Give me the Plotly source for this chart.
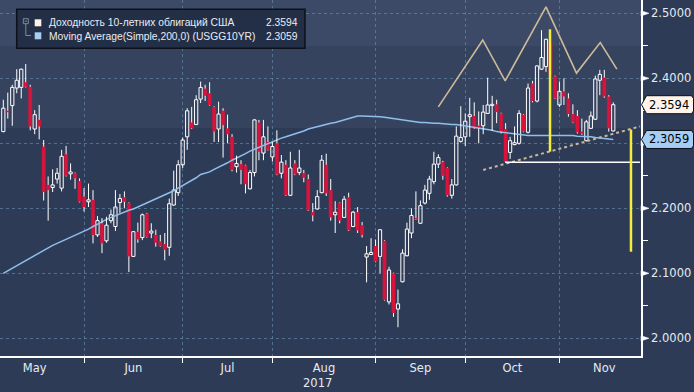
import plotly.graph_objects as go

# ---------------- data ----------------
series_name = "Доходность 10-летних облигаций США"
ma_name = "Moving Average(Simple,200,0) (USGG10YR)"
last_close_label = "2.3594"
last_ma_label = "2.3059"

months = ["May", "Jun", "Jul", "Aug", "Sep", "Oct", "Nov"]
month_label_pos = [7, 29, 50, 71.5, 93, 113.5, 134]   # trading-day index of month centres
month_end_idx = [18, 40, 60, 83, 103, 124]           # last trading day of each month
year_label = "2017"
year_label_pos = 70

opens = [2.318, 2.350, 2.358, 2.385, 2.386, 2.394, 2.387, 2.322, 2.336, 2.295,
         2.236, 2.232, 2.245, 2.231, 2.283, 2.253, 2.254, 2.242, 2.218, 2.210,
         2.213, 2.159, 2.177, 2.150, 2.181, 2.172, 2.209, 2.217, 2.208, 2.126,
         2.164, 2.155, 2.192, 2.162, 2.159, 2.149, 2.145, 2.140, 2.205, 2.224,
         2.267, 2.310, 2.332, 2.329, 2.368, 2.384, 2.377, 2.356, 2.322, 2.350,
         2.323, 2.310, 2.264, 2.268, 2.266, 2.230, 2.255, 2.332, 2.285, 2.302,
         2.279, 2.300, 2.254, 2.267, 2.220, 2.269, 2.255, 2.254, 2.245, 2.194,
         2.199, 2.224, 2.267, 2.228, 2.190, 2.208, 2.186, 2.217, 2.172, 2.194,
         2.174, 2.125, 2.129, 2.142, 2.126, 2.150, 2.056, 2.100, 2.045, 2.087,
         2.127, 2.162, 2.185, 2.177, 2.208, 2.223, 2.241, 2.268, 2.271, 2.262,
         2.220, 2.236, 2.303, 2.310, 2.341, 2.342, 2.327, 2.327, 2.346, 2.358,
         2.360, 2.346, 2.322, 2.286, 2.298, 2.300, 2.344, 2.317, 2.392, 2.365,
         2.414, 2.418, 2.455, 2.403, 2.359, 2.380, 2.369, 2.345, 2.342, 2.318,
         2.304, 2.323, 2.337, 2.397, 2.401, 2.372, 2.319]
highs = [2.367, 2.378, 2.390, 2.414, 2.415, 2.422, 2.390, 2.351, 2.359, 2.305,
         2.249, 2.260, 2.262, 2.290, 2.296, 2.269, 2.255, 2.246, 2.231, 2.238,
         2.228, 2.188, 2.185, 2.187, 2.198, 2.228, 2.222, 2.226, 2.209, 2.165,
         2.178, 2.192, 2.193, 2.177, 2.167, 2.159, 2.162, 2.215, 2.258, 2.274,
         2.309, 2.354, 2.356, 2.374, 2.395, 2.390, 2.394, 2.357, 2.364, 2.354,
         2.344, 2.314, 2.281, 2.274, 2.267, 2.259, 2.337, 2.336, 2.336, 2.326,
         2.302, 2.320, 2.282, 2.274, 2.287, 2.274, 2.290, 2.259, 2.252, 2.208,
         2.228, 2.282, 2.284, 2.245, 2.211, 2.209, 2.219, 2.224, 2.196, 2.202,
         2.179, 2.142, 2.154, 2.152, 2.168, 2.151, 2.110, 2.101, 2.075, 2.137,
         2.178, 2.200, 2.226, 2.212, 2.236, 2.250, 2.287, 2.283, 2.273, 2.263,
         2.245, 2.326, 2.357, 2.346, 2.370, 2.363, 2.349, 2.359, 2.401, 2.373,
         2.367, 2.347, 2.331, 2.310, 2.326, 2.351, 2.345, 2.392, 2.396, 2.420,
         2.474, 2.461, 2.470, 2.404, 2.395, 2.400, 2.377, 2.360, 2.351, 2.338,
         2.336, 2.349, 2.404, 2.413, 2.413, 2.374, 2.363]
lows = [2.317, 2.338, 2.327, 2.377, 2.369, 2.386, 2.320, 2.314, 2.306, 2.212,
        2.181, 2.225, 2.238, 2.226, 2.249, 2.244, 2.230, 2.209, 2.195, 2.202,
        2.146, 2.156, 2.131, 2.147, 2.177, 2.165, 2.193, 2.200, 2.102, 2.125,
        2.147, 2.151, 2.155, 2.154, 2.141, 2.141, 2.120, 2.127, 2.204, 2.219,
        2.262, 2.290, 2.322, 2.328, 2.362, 2.365, 2.358, 2.302, 2.302, 2.278,
        2.300, 2.257, 2.255, 2.237, 2.223, 2.229, 2.249, 2.274, 2.274, 2.289,
        2.272, 2.251, 2.246, 2.219, 2.219, 2.251, 2.251, 2.240, 2.196, 2.180,
        2.198, 2.223, 2.219, 2.181, 2.162, 2.177, 2.185, 2.165, 2.171, 2.162,
        2.155, 2.086, 2.128, 2.117, 2.100, 2.058, 2.052, 2.033, 2.017, 2.086,
        2.126, 2.154, 2.182, 2.176, 2.206, 2.213, 2.237, 2.262, 2.244, 2.218,
        2.215, 2.235, 2.301, 2.296, 2.310, 2.322, 2.300, 2.314, 2.345, 2.319,
        2.331, 2.315, 2.271, 2.276, 2.297, 2.298, 2.317, 2.315, 2.363, 2.363,
        2.413, 2.410, 2.404, 2.368, 2.356, 2.359, 2.341, 2.331, 2.315, 2.313,
        2.303, 2.322, 2.336, 2.374, 2.370, 2.318, 2.318]
closes = [2.354, 2.348, 2.386, 2.397, 2.414, 2.387, 2.326, 2.344, 2.326, 2.225,
          2.228, 2.236, 2.254, 2.280, 2.250, 2.256, 2.246, 2.210, 2.202, 2.213,
          2.159, 2.181, 2.146, 2.174, 2.190, 2.202, 2.215, 2.210, 2.126, 2.164,
          2.152, 2.190, 2.156, 2.165, 2.147, 2.142, 2.136, 2.207, 2.228, 2.267,
          2.305, 2.350, 2.323, 2.367, 2.386, 2.373, 2.359, 2.318, 2.345, 2.328,
          2.314, 2.259, 2.269, 2.259, 2.237, 2.255, 2.336, 2.287, 2.310, 2.290,
          2.295, 2.252, 2.271, 2.220, 2.262, 2.252, 2.262, 2.247, 2.197, 2.189,
          2.218, 2.274, 2.223, 2.186, 2.194, 2.181, 2.214, 2.166, 2.194, 2.166,
          2.159, 2.130, 2.132, 2.118, 2.167, 2.059, 2.105, 2.039, 2.053, 2.131,
          2.168, 2.189, 2.183, 2.204, 2.228, 2.245, 2.268, 2.278, 2.250, 2.220,
          2.236, 2.311, 2.309, 2.334, 2.344, 2.323, 2.323, 2.348, 2.359, 2.360,
          2.348, 2.317, 2.272, 2.304, 2.301, 2.346, 2.318, 2.385, 2.365, 2.419,
          2.432, 2.460, 2.406, 2.369, 2.380, 2.372, 2.345, 2.332, 2.317, 2.315,
          2.333, 2.342, 2.399, 2.406, 2.372, 2.323, 2.3594]
ma200 = [2.100, 2.104, 2.108, 2.112, 2.116, 2.120, 2.124, 2.128, 2.132, 2.136,
         2.140, 2.143, 2.146, 2.149, 2.152, 2.155, 2.158, 2.162, 2.165, 2.168,
         2.172, 2.175, 2.179, 2.183, 2.186, 2.189, 2.192, 2.195, 2.197, 2.199,
         2.202, 2.205, 2.208, 2.211, 2.214, 2.217, 2.220, 2.223, 2.227, 2.231,
         2.235, 2.238, 2.242, 2.247, 2.252, 2.254, 2.256, 2.260, 2.263, 2.266,
         2.270, 2.274, 2.277, 2.281, 2.284, 2.288, 2.291, 2.294, 2.297, 2.300,
         2.303, 2.305, 2.308, 2.310, 2.312, 2.315, 2.317, 2.319, 2.322, 2.324,
         2.326, 2.328, 2.330, 2.331, 2.332, 2.334, 2.335, 2.337, 2.340, 2.342,
         2.342, 2.342, 2.342, 2.342, 2.341, 2.340, 2.339, 2.338, 2.337, 2.335,
         2.334, 2.334, 2.333, 2.332, 2.332, 2.331, 2.331, 2.331, 2.330, 2.330,
         2.329, 2.329, 2.328, 2.327, 2.326, 2.325, 2.323, 2.322, 2.321, 2.320,
         2.318, 2.317, 2.316, 2.315, 2.314, 2.313, 2.313, 2.312, 2.312, 2.312,
         2.312, 2.313, 2.313, 2.313, 2.313, 2.313, 2.312, 2.312, 2.311, 2.311,
         2.311, 2.310, 2.309, 2.308, 2.307, 2.306, 2.3059]

# hand-drawn annotations (trading-day index, yield)
hs_x = [97.0, 106.9, 111.9, 121.0, 127.8, 133.1, 136.8]
hs_y = [2.356, 2.459, 2.396, 2.510, 2.408, 2.455, 2.414]
neck_x = [107.0, 141.96]
neck_y = [2.259, 2.326]
support_x = [111.9, 141.96]
support_y = [2.2708, 2.2708]
target1_x = [121.9, 121.9]
target1_y = [2.4754, 2.2871]
target2_x = [139.95, 139.95]
target2_y = [2.3212, 2.1332]

y_ticks = [2.0, 2.1, 2.2, 2.3, 2.4, 2.5]
y_tick_text = ["2.0000", "2.1000", "2.2000", "", "2.4000", "2.5000"]  # 2.3000 hidden under the MA tag
y_minor = [2.05, 2.15, 2.25, 2.35, 2.45]

# ---------------- styling ----------------
W, H = 694, 392
PL, PR, PT, PB = 0, 53, 0, 36
PW, PH = W - PL - PR, H - PT - PB
BG = "#2e3b56"
RED = "#d8143c"
GRID = "rgba(105,140,170,0.65)"
TXT = "#e4ebf3"
AXFONT = "DejaVu Sans"

def px2x(px):
    return px / PW

def py2y(py):
    return (PH - py) / PH

n = len(closes)
idx = list(range(n))

fig = go.Figure()

# moving average
fig.add_trace(go.Scatter(x=idx, y=ma200, mode="lines",
                         line=dict(color="#8fbfec", width=1.5), hoverinfo="skip"))

# wicks
wx, wy = [], []
for i in idx:
    top = max(opens[i], closes[i])
    bot = min(opens[i], closes[i])
    wx += [i, i, None, i, i, None]
    wy += [highs[i], top, None, bot, lows[i], None]
fig.add_trace(go.Scatter(x=wx, y=wy, mode="lines",
                         line=dict(color="white", width=1), hoverinfo="skip"))

# bodies
up_x, up_b, up_h, dn_x, dn_b, dn_h = [], [], [], [], [], []
for i in idx:
    b = min(opens[i], closes[i])
    h = max(abs(closes[i] - opens[i]), 0.0012)
    if closes[i] >= opens[i]:
        up_x.append(i); up_b.append(b); up_h.append(h)
    else:
        dn_x.append(i); dn_b.append(b); dn_h.append(h)
fig.add_trace(go.Bar(x=up_x, y=up_h, base=up_b, width=0.72,
                     marker=dict(color="rgba(0,0,0,0)", line=dict(color="white", width=1)),
                     hoverinfo="skip"))
fig.add_trace(go.Bar(x=dn_x, y=dn_h, base=dn_b, width=0.72,
                     marker=dict(color=RED, line=dict(color=RED, width=0.5)),
                     hoverinfo="skip"))

# pattern annotations
fig.add_trace(go.Scatter(x=hs_x, y=hs_y, mode="lines",
                         line=dict(color="#cdbb98", width=1.6), hoverinfo="skip"))
fig.add_trace(go.Scatter(x=neck_x, y=neck_y, mode="lines",
                         line=dict(color="#c9b99c", width=2, dash="dot"), hoverinfo="skip"))
fig.add_trace(go.Scatter(x=support_x, y=support_y, mode="lines",
                         line=dict(color="white", width=1.5), hoverinfo="skip"))
for tx, ty in [(target1_x, target1_y), (target2_x, target2_y)]:
    fig.add_trace(go.Scatter(x=tx, y=ty, mode="lines",
                             line=dict(color="#f2ee3a", width=2.5), hoverinfo="skip"))

shapes = []
# background bands
shapes.append(dict(type="rect", xref="paper", yref="paper", x0=0, x1=1,
                   y0=py2y(128), y1=1, fillcolor="#35435f", line=dict(width=0), layer="below"))
shapes.append(dict(type="rect", xref="paper", yref="paper", x0=0, x1=1,
                   y0=py2y(46), y1=1, fillcolor="#3c4a67", line=dict(width=0), layer="below"))

# arrows at major y ticks
ah = 2.6 / 650
for v in y_ticks:
    shapes.append(dict(type="path", xref="paper", yref="y",
                       path=f"M {px2x(641)},{v+ah} L {px2x(649)},{v} L {px2x(641)},{v-ah} Z",
                       fillcolor="white", line=dict(color="white", width=0.5)))

# value tags
def tag(v, fill):
    h = 9 / 650
    x0, x1, x2, x3 = px2x(641.5), px2x(646.5), px2x(691.5), px2x(693.5)
    p = (f"M {x0},{v} L {x1},{v+h} L {x2},{v+h} L {x3},{v+h*0.7} "
         f"L {x3},{v-h*0.7} L {x2},{v-h} L {x1},{v-h} Z")
    return dict(type="path", xref="paper", yref="y", path=p,
                fillcolor=fill, line=dict(color="#0b0f18", width=1))

shapes.append(tag(closes[-1], "#fdf3e8"))
shapes.append(tag(ma200[-1], "#a5cdf4"))

# legend box
shapes.append(dict(type="rect", xref="paper", yref="paper",
                   x0=px2x(16.7), x1=px2x(305), y0=py2y(48.3), y1=py2y(9.3),
                   fillcolor="#232f47", line=dict(color="#0c111b", width=1.5)))
shapes.append(dict(type="rect", xref="paper", yref="paper",
                   x0=px2x(23.3), x1=px2x(28.3), y0=py2y(23.7), y1=py2y(18.7),
                   fillcolor="rgba(0,0,0,0)", line=dict(color="#7f8a9c", width=1)))
shapes.append(dict(type="line", xref="paper", yref="paper",
                   x0=px2x(24.6), x1=px2x(27.0), y0=py2y(21.2), y1=py2y(21.2),
                   line=dict(color="#7f8a9c", width=1)))
shapes.append(dict(type="path", xref="paper", yref="paper",
                   path=f"M {px2x(25.8)},{py2y(23.7)} L {px2x(25.8)},{py2y(35.5)} L {px2x(31)},{py2y(35.5)}",
                   line=dict(color="#7f8a9c", width=1)))
shapes.append(dict(type="rect", xref="paper", yref="paper",
                   x0=px2x(34.7), x1=px2x(41.3), y0=py2y(26.3), y1=py2y(19.3),
                   fillcolor="#fdf2e6", line=dict(width=0)))
shapes.append(dict(type="rect", xref="paper", yref="paper",
                   x0=px2x(34.7), x1=px2x(41.3), y0=py2y(39.3), y1=py2y(32.3),
                   fillcolor="#a8cdf2", line=dict(width=0)))

annotations = []
LEGFONT = dict(family="Liberation Sans, Arial, sans-serif", size=10.3, color="#e9edf3")
annotations.append(dict(xref="paper", yref="paper", x=px2x(47), y=py2y(23),
                        xanchor="left", yanchor="middle", text=series_name,
                        showarrow=False, font=LEGFONT))
annotations.append(dict(xref="paper", yref="paper", x=px2x(47), y=py2y(36),
                        xanchor="left", yanchor="middle", text=ma_name,
                        showarrow=False, font=LEGFONT))
annotations.append(dict(xref="paper", yref="paper", x=px2x(300), y=py2y(23),
                        xanchor="right", yanchor="middle", text=last_close_label,
                        showarrow=False, font=LEGFONT))
annotations.append(dict(xref="paper", yref="paper", x=px2x(300), y=py2y(36),
                        xanchor="right", yanchor="middle", text=last_ma_label,
                        showarrow=False, font=LEGFONT))
for v, lab in [(closes[-1], last_close_label), (ma200[-1], last_ma_label)]:
    annotations.append(dict(xref="paper", yref="y", x=px2x(669), y=v,
                            xanchor="center", yanchor="middle", text=lab,
                            showarrow=False,
                            font=dict(family=AXFONT, size=11.5, color="#000000")))
annotations.append(dict(xref="x", yref="paper", x=year_label_pos, y=0,
                        xanchor="center", yanchor="top", yshift=-18, text=year_label,
                        showarrow=False, font=dict(family=AXFONT, size=11.5, color=TXT)))

x_lo = (0 - 3.3) / 4.485
x_hi = (PW - 3.3) / 4.485
y_lo = 2.4 - (PH - 78.3) / 650
y_hi = 2.4 + 78.3 / 650

fig.update_layout(
    width=W, height=H,
    margin=dict(l=PL, r=PR, t=PT, b=PB),
    paper_bgcolor=BG, plot_bgcolor=BG,
    showlegend=False, barmode="overlay",
    shapes=shapes, annotations=annotations,
    xaxis=dict(range=[x_lo, x_hi], tickmode="array", tickvals=month_label_pos,
               ticktext=months, ticks="", showgrid=False, zeroline=False,
               showline=True, linecolor="white", linewidth=1.5,
               tickfont=dict(family=AXFONT, size=11.5, color=TXT),
               minor=dict(tickmode="array", tickvals=month_end_idx, ticks="outside",
                          ticklen=5, tickcolor="white", showgrid=True,
                          gridcolor=GRID, griddash="3px,3px", gridwidth=1)),
    yaxis=dict(range=[y_lo, y_hi], side="right", tickmode="array", tickvals=y_ticks,
               ticktext=y_tick_text, ticks="outside", ticklen=6,
               tickcolor="rgba(0,0,0,0)", showgrid=True, gridcolor=GRID,
               griddash="3px,3px", gridwidth=1, zeroline=False,
               showline=True, linecolor="white", linewidth=1.5,
               tickfont=dict(family=AXFONT, size=11.5, color=TXT),
               minor=dict(tickmode="array", tickvals=y_minor, ticks="outside",
                          ticklen=5, tickcolor="white", showgrid=False)),
)

fig.write_html("out.html",
               config={"displayModeBar": False},
               post_script="document.body.style.margin='0';document.body.style.background='%s';" % BG)
